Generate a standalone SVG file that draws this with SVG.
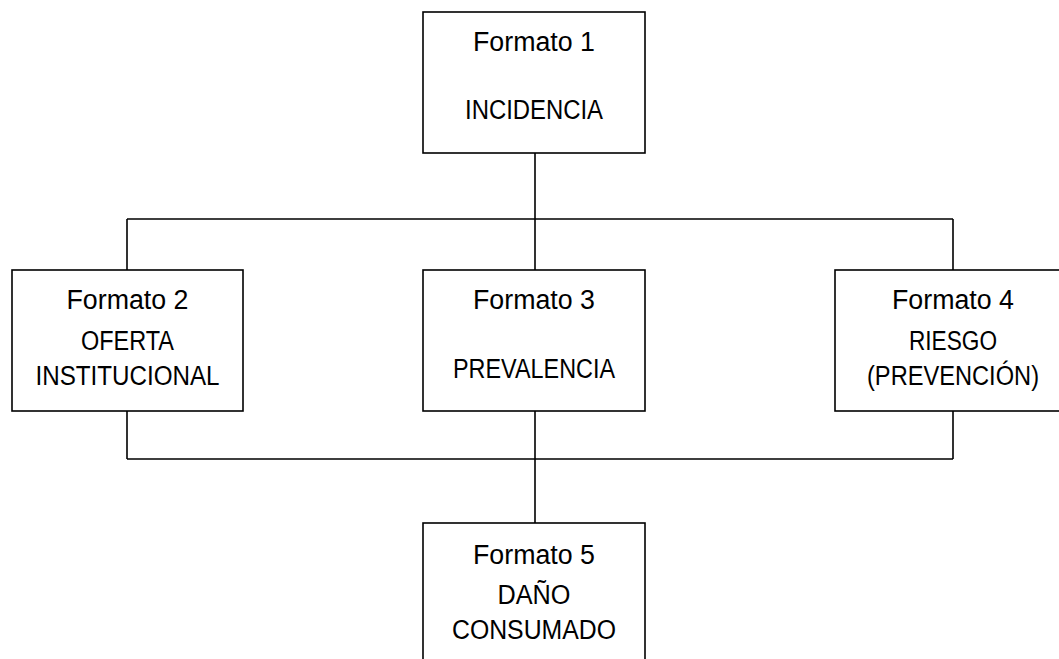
<svg xmlns="http://www.w3.org/2000/svg" width="1059" height="659" viewBox="0 0 1059 659">
<style>
.box{fill:#fff;stroke:#000;stroke-width:1.6}
.ln{fill:none;stroke:#000;stroke-width:1.6}
text{font-family:"Liberation Sans",Arial,sans-serif;font-size:27px;fill:#000;text-anchor:middle}
</style>
<rect width="1059" height="659" fill="#fff"/>
<g id="connectors">
<path class="ln" d="M535 153V219M127 219H953M127 219V270M535 219V270M953 219V270"/>
<path class="ln" d="M127 411V459M535 411V459M953 411V459M127 459H953M535 459V523"/>
</g>
<g id="node1">
<rect class="box" x="423" y="12" width="222" height="141"/>
<text x="534" y="51" textLength="122" lengthAdjust="spacingAndGlyphs">Formato 1</text>
<text x="534" y="119" textLength="138" lengthAdjust="spacingAndGlyphs">INCIDENCIA</text>
</g>
<g id="node2">
<rect class="box" x="12" y="270" width="231" height="141"/>
<text x="127.5" y="309" textLength="122" lengthAdjust="spacingAndGlyphs">Formato 2</text>
<text x="127.5" y="350" textLength="93" lengthAdjust="spacingAndGlyphs">OFERTA</text>
<text x="127.5" y="385" textLength="184" lengthAdjust="spacingAndGlyphs">INSTITUCIONAL</text>
</g>
<g id="node3">
<rect class="box" x="423" y="270" width="222" height="141"/>
<text x="534" y="309" textLength="122" lengthAdjust="spacingAndGlyphs">Formato 3</text>
<text x="534" y="378" textLength="162" lengthAdjust="spacingAndGlyphs">PREVALENCIA</text>
</g>
<g id="node4">
<rect class="box" x="835" y="270" width="236" height="141"/>
<text x="953" y="309" textLength="122" lengthAdjust="spacingAndGlyphs">Formato 4</text>
<text x="953" y="350" textLength="88" lengthAdjust="spacingAndGlyphs">RIESGO</text>
<text x="953" y="385" textLength="172" lengthAdjust="spacingAndGlyphs">(PREVENCIÓN)</text>
</g>
<g id="node5">
<rect class="box" x="423" y="523" width="222" height="180"/>
<text x="534" y="564" textLength="122" lengthAdjust="spacingAndGlyphs">Formato 5</text>
<text x="534" y="604" textLength="73" lengthAdjust="spacingAndGlyphs">DAÑO</text>
<text x="534" y="639" textLength="164" lengthAdjust="spacingAndGlyphs">CONSUMADO</text>
</g>
</svg>
